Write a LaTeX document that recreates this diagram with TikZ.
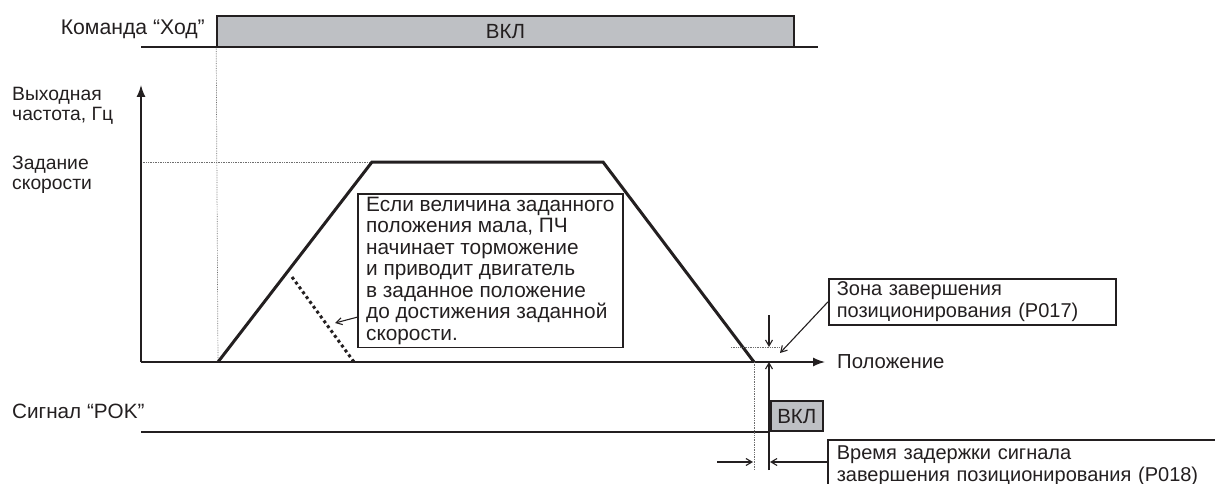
\documentclass[tikz,border=0pt]{standalone}
\usepackage{fontspec}
\setmainfont{Liberation Sans}
\usepackage{tikz}
\usetikzlibrary{arrows.meta,positioning}
\definecolor{ink}{RGB}{35,31,32}
\definecolor{onfill}{RGB}{190,192,196}
\definecolor{guidegray}{RGB}{110,110,110}

\begin{document}
\begin{tikzpicture}[
x=1pt, y=-1pt,
every node/.style={text=ink, font=\fontsize{20}{21.5}\selectfont},
lbl/.style={inner sep=0pt, align=left, font=\fontsize{19.3}{20}\selectfont},
onbox/.style={draw=ink, line width=1.6pt, fill=onfill, inner sep=0pt},
note/.style={draw=ink, line width=1.6pt, align=left, anchor=north west, inner xsep=8pt, inner ysep=3pt},
axis/.style={draw=ink, line width=1.4pt, -{Latex[length=12pt,width=9pt]}},
ramp/.style={draw=ink, line width=3pt, line join=miter},
guide/.style={draw=guidegray, line width=0.7pt, densely dotted},
level/.style={draw=ink, line width=1.4pt},
pointer/.style={draw=ink, line width=1.1pt, -{Straight Barb[length=6pt,width=7pt]}}
]
\useasboundingbox (0,0) rectangle (1215,484);

\coordinate (cmdL) at (141,47);
\coordinate (cmdR) at (818,47);
\draw[level] (cmdL) -- (cmdR);
\node[lbl, anchor=east, font=\fontsize{21.2}{22}\selectfont] (cmdlbl) at (205,29) {Команда “Ход”};
\node[onbox, minimum width=577pt, minimum height=31pt, font=\fontsize{20.5}{22}\selectfont] (cmdon) at (505.5,31.5) {ВКЛ};

\coordinate (O) at (141,362);
\coordinate (ytop) at (141,85);
\coordinate (xend) at (825,362);
\coordinate (r1) at (218,362);
\coordinate (r2) at (372,162);
\coordinate (r3) at (603,162);
\coordinate (r4) at (754,362);
\draw[guide] (cmdon.south west) -- (r1);
\draw[guide] (O |- r2) -- (r2);
\draw[axis] (O) -- (ytop);
\draw[axis] (O) -- (xend);
\draw[ramp] (r1) -- (r2) -- (r3) -- (r4);
\node[lbl, right=12pt of xend, font=\fontsize{20.3}{22}\selectfont] (pos) {Положение};
\node[lbl, anchor=north west] (freq) at (12,87) {Выходная\\частота, Гц};
\node[lbl, anchor=north west] (spd) at (12,156) {Задание\\скорости};

\coordinate (s1) at (292,277);
\coordinate (s2) at (354,362);
\draw[draw=ink, line width=3pt, dash pattern=on 3pt off 3pt] (s1) -- (s2);
\node[note, minimum width=265pt, minimum height=153pt, font=\fontsize{20.8}{21.5}\selectfont] (note) at (357,193)
  {Если величина заданного\\положения мала, ПЧ\\начинает торможение\\и приводит двигатель\\в заданное положение\\до достижения заданной\\скорости.};
\coordinate (sTip) at (335,323);
\draw[pointer] ([yshift=31pt]note.south west) -- (sTip);

\node[note, text width=271pt, minimum height=46pt] (zone) at (828,278) {Зона завершения\\позиционирования (P017)};
\coordinate (zTip) at (780,353);
\draw[pointer] (zone.west) -- (zTip);
\coordinate (lvlL) at (731,347);
\coordinate (lvlR) at (780,347);
\draw[guide] (lvlL) -- (lvlR);
\coordinate (zTop) at (769,315);
\coordinate (zLvl) at (769,347);
\coordinate (zAx) at (769,362);
\coordinate (zBot) at (769,470);
\draw[pointer] (zTop) -- (zLvl);
\draw[pointer] (zBot) -- (zAx);

\coordinate (pokL) at (141,432);
\node[lbl, anchor=west, font=\fontsize{20.7}{22}\selectfont] (poklbl) at (12,411) {Сигнал “POK”};
\node[onbox, minimum width=52pt, minimum height=30pt, anchor=south west, font=\fontsize{20.5}{22}\selectfont] (pokon) at (770,432) {ВКЛ};
\draw[level] (pokL) -- (pokon.south west);

\coordinate (dBot) at (754,470);
\draw[guide] (r4) -- (dBot);
\node[note, draw=none, text width=369pt, inner ysep=5pt] (delay) at (828,440) {Время задержки сигнала\\завершения позиционирования (P018)};
\draw[level] (delay.south west) -- (delay.north west) -- (delay.north east);
\coordinate (dL) at (717,462);
\coordinate (dA) at (753,462);
\coordinate (dB) at (770,462);
\draw[pointer] (dL) -- (dA);
\draw[pointer] (delay.west |- dB) -- (dB);
\end{tikzpicture}
\end{document}
